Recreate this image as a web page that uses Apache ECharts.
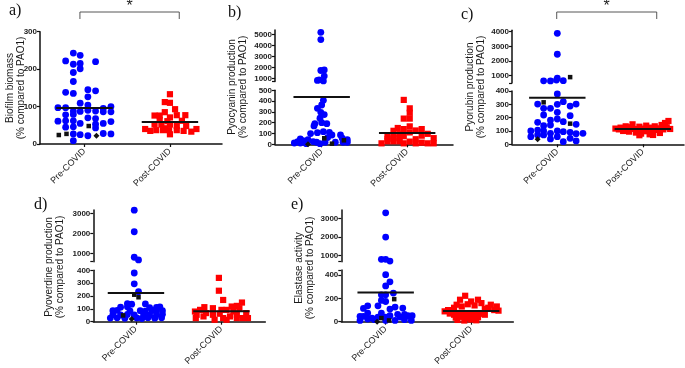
<!DOCTYPE html>
<html>
<head>
<meta charset="utf-8">
<script src="https://cdn.jsdelivr.net/npm/echarts@6/dist/echarts.min.js"></script>
<style>
  html, body { margin: 0; padding: 0; background: #fff; }
  #main { width: 685px; height: 368px; }
</style>
</head>
<body>
<div id="main"></div>
<script>
// x positions: Pre-COVID = 1, Post-COVID = 2 (points are jittered around them)
const groupNames = ['Pre-COVID', 'Post-COVID'];

// a) biofilm biomass
const biofilmPre = [[0.87,243],[0.95,237],[0.78,222],[0.87,213],[0.95,215],[1.13,220],[0.95,201],[0.87,191],[0.87,167],
  [0.78,138],[0.87,135],[1.04,145],[1.13,142],[1.04,126],[0.95,109],[1.04,104],
  [0.69,97],[0.78,97],[1.22,95],[1.31,100],
  [0.87,88],[0.95,87],[1.04,90],[1.13,88],[1.22,86],[1.31,86],
  [0.78,78],[0.87,79],[1.13,68],[1.04,70],
  [0.69,61],[0.78,62],[0.87,62],[1.31,60],[0.95,55],[1.13,53],[1.22,55],
  [0.78,45],[0.87,46],[1.13,43],
  [0.87,27],[0.95,25],[1.04,22],[1.22,28],[1.31,27],[0.87,9]];
const biofilmRef = [[0.70,24,'s'],[0.79,27,'s'],[1.05,48,'s'],[1.14,22,'d']];
const biofilmPost = [[2.0,133],[1.94,112],[2.0,110],[2.06,93],[1.94,85],[1.82,76],[1.88,76],[2.08,77],[2.18,77],[2.0,71],
  [1.88,64],[2.14,62],[1.97,61],[1.82,52],[1.90,52],[2.0,52],[2.19,48],[2.08,48],[1.94,42],
  [1.71,40],[1.77,35],[1.84,37],[1.92,37],[1.99,37],[2.08,37],[2.16,35],[2.25,33],[2.31,40],[2.0,26]];
const biofilmMedian = [96, 59];

// b) pyocyanin production
const pyocyaninPre = [[0.99,5180],[0.99,4520],[0.99,1710],[1.03,1760],[1.03,1200],[0.95,810],[1.02,760],[0.97,860],
  [1.02,407],[1.0,364],[0.95,333],[0.99,296],[1.03,275],[0.98,241],[0.92,191],[0.91,170],[1.06,191],[1.0,200],
  [0.87,99],[0.95,108],[1.02,117],[1.09,111],[1.12,86],[1.22,86],
  [0.75,49],[0.72,25],[0.78,34],[0.84,43],[0.90,25],[0.94,19],[1.07,62],[1.24,56],[1.30,43],[1.30,19],
  [0.68,12],[0.75,12],[0.82,6],[0.98,6],[1.04,19],[1.16,19],[1.25,19]];
const pyocyaninRef = [[1.03,56,'s'],[1.12,6,'s'],[0.84,0,'d'],[1.26,37,'s']];
const pyocyaninPost = [[1.96,411],[2.03,333],[2.03,292],[1.96,238],[2.03,238],[1.89,151],[1.96,141],[2.03,166],
  [1.84,125],[2.10,128],[2.17,141],[2.24,97],[2.03,110],
  [1.70,9],[1.77,75],[1.77,28],[1.77,50],[1.84,82],[1.84,28],[1.84,55],[1.91,94],[1.91,28],[1.91,60],
  [1.96,9],[1.96,75],[2.03,25],[2.10,47],[2.10,9],[2.17,15],[2.24,9],[2.31,57],[2.31,9],[2.17,80]];
const pyocyaninMedian = [437, 105];

// c) pyorubin production
const pyorubinPre = [[1.0,3890],[1.0,2460],[0.84,650],[0.92,640],[1.0,830],[0.99,700],[1.07,660],
  [1.0,378],[0.77,302],[0.84,270],[0.92,270],[1.0,300],[1.07,320],[1.15,287],[1.22,302],
  [1.0,240],[0.84,220],[1.15,215],[0.92,182],[1.0,190],[1.07,170],[0.77,165],
  [0.84,140],[0.92,145],[1.22,150],
  [0.69,100],[0.77,107],[0.84,100],[1.0,100],[1.07,95],[1.15,90],
  [0.69,57],[0.77,70],[0.84,70],[0.92,82],[1.0,57],[1.22,80],[1.30,82],
  [0.92,40],[1.15,45],[1.07,20],[1.22,25]];
const pyorubinRef = [[1.15,900,'s'],[0.84,315,'s'],[1.15,155,'s'],[0.77,37,'d']];
const pyorubinPost = [[1.68,118],[1.72,112],[1.74,125],[1.77,100],[1.80,135],[1.82,110],[1.84,95],[1.86,128],
  [1.88,150],[1.90,115],[1.92,88],[1.94,105],[1.96,132],[1.98,80],[2.00,118],[2.02,98],[2.04,140],
  [2.06,110],[2.08,75],[2.10,125],[2.12,92],[2.14,135],[2.16,108],[2.18,120],[2.20,85],[2.22,145],
  [2.24,112],[2.26,160],[2.28,128],[2.30,175],[2.32,115],[1.96,68],[2.12,70]];
const pyorubinMedian = [350, 115];

// d) pyoverdine production
const pyoverdinePre = [[0.98,3163],[0.98,2089],[0.98,822],[1.03,688],
  [0.98,379],[0.98,295],[1.03,233],[0.90,141],[0.95,136],[1.11,138],
  [0.82,113],[0.90,116],[1.16,110],[1.24,112],[1.28,115],
  [0.73,85],[0.78,88],[0.93,84],[1.05,86],[1.11,82],[1.19,87],[1.24,84],[1.31,86],
  [0.73,54],[0.82,52],[0.90,56],[0.98,53],[1.09,55],[1.16,50],[1.24,54],[1.31,57],
  [0.70,28],[0.78,30],[0.87,26],[1.01,29],[1.07,25],[1.14,31],[1.22,27],[1.30,30]];
const pyoverdineRef = [[0.98,210,'s'],[1.03,190,'s'],[0.85,49,'s'],[0.95,21,'d']];
const pyoverdinePost = [[1.97,341],[1.97,241],[2.02,169],[2.24,149],[2.18,123],[2.12,118],[1.80,113],[1.90,105],
  [1.69,79],[1.75,92],[1.82,67],[1.90,54],[1.98,62],[2.06,92],[2.14,79],[2.21,105],[2.29,67],[2.0,92],
  [1.70,28],[1.79,41],[1.92,15],[2.02,28],[2.10,41],[2.18,28],[2.25,28],[2.31,28],
  [1.71,54],[2.18,54],[2.06,15]];
const pyoverdineMedian = [223, 82];

// e) elastase activity
const elastasePre = [[1.0,3300],[1.0,2000],[0.95,807],[1.0,807],[1.05,716],
  [1.0,405],[1.05,343],[1.0,308],[0.95,231],[1.0,231],[1.09,246],
  [0.95,183],[1.0,174],[0.91,137],[0.79,137],[0.74,114],[1.20,117],[1.05,109],[1.11,126],
  [0.79,74],[0.95,74],[1.14,63],[1.22,63],
  [0.70,46],[0.74,46],[0.84,31],[0.91,40],[1.0,40],[1.05,51],[1.17,40],[1.26,51],[1.31,51],
  [0.70,11],[0.79,23],[0.87,17],[1.0,11],[1.11,11],[1.22,17],[1.30,11]];
const elastaseRef = [[1.10,194,'s'],[0.95,31,'s'],[1.04,11,'s'],[0.90,0,'d']];
const elastasePost = [[1.69,89],[1.73,100],[1.77,94],[1.80,120],[1.83,146],[1.87,189],[1.89,131],[1.93,223],
  [1.96,150],[2.0,174],[2.04,140],[2.08,189],[2.12,160],[2.16,110],[2.20,120],[2.23,146],[2.27,100],
  [2.30,131],[2.32,95],
  [1.75,70],[1.80,60],[1.86,65],[1.92,58],[1.98,70],[2.04,62],[2.10,68],[2.16,60],
  [1.82,35],[1.90,42],[1.96,30],[2.02,45],[2.08,38],
  [1.84,15],[1.92,10],[2.0,18],[2.06,12]];
const elastaseMedian = [251, 91];

const BLUE = '#0000ff';
const RED = '#ff0000';
const INK = '#111';
const FONT = 'Liberation Sans, Arial, sans-serif';

// layout of the five panels (pixels)
const panels = [
  { label: 'a)', lx: 9, ly: 3, title: ['Biofilm biomass', '(% compared to PAO1)'], tx: 16, ty: 88,
    left: 40, width: 182, xMin: 0.48, xMax: 2.609,
    lower: { top: 31.7, height: 112.3, min: 0, max: 300, ticks: [0, 100, 200, 300], labels: [0, 100, 200, 300] },
    pre: biofilmPre, ref: biofilmRef, post: biofilmPost, med: biofilmMedian, sig: [0.947, 2.109] },
  { label: 'b)', lx: 228, ly: 5, title: ['Pyocyanin production', '(% compared to PAO1)'], tx: 238, ty: 87,
    left: 275, width: 178, xMin: 0.454, xMax: 2.536,
    upper: { top: 29.9, height: 51.7, min: 700, max: 5400, ticks: [700, 1000, 2000, 3000, 4000, 5000], labels: [1000, 2000, 3000, 4000, 5000] },
    lower: { top: 90.3, height: 54, min: 0, max: 500, ticks: [0, 100, 200, 300, 400, 500], labels: [0, 100, 200, 300, 400, 500] },
    pre: pyocyaninPre, ref: pyocyaninRef, post: pyocyaninPost, med: pyocyaninMedian },
  { label: 'c)', lx: 461, ly: 7, title: ['Pyorubin production', '(% compared to PAO1)'], tx: 476, ty: 87,
    left: 512, width: 172, xMin: 0.47, xMax: 2.482,
    upper: { top: 30.2, height: 52.8, min: 500, max: 4100, ticks: [500, 1000, 2000, 3000, 4000], labels: [1000, 2000, 3000, 4000] },
    lower: { top: 91, height: 53.3, min: 0, max: 400, ticks: [0, 100, 200, 300, 400], labels: [0, 100, 200, 300, 400] },
    pre: pyorubinPre, ref: pyorubinRef, post: pyorubinPost, med: pyorubinMedian, sig: [0.993, 2.163] },
  { label: 'd)', lx: 34, ly: 197, title: ['Pyoverdine production', '(% compared to PAO1)'], tx: 55, ty: 267,
    left: 93.3, width: 172, xMin: 0.501, xMax: 2.513,
    upper: { top: 210, height: 51.7, min: 600, max: 3170, ticks: [600, 1000, 2000, 3000], labels: [1000, 2000, 3000] },
    lower: { top: 270.3, height: 51.7, min: 0, max: 400, ticks: [0, 100, 200, 300, 400], labels: [0, 100, 200, 300, 400] },
    pre: pyoverdinePre, ref: pyoverdineRef, post: pyoverdinePost, med: pyoverdineMedian },
  { label: 'e)', lx: 291, ly: 197, title: ['Elastase activity', '(% compared to PAO1)'], tx: 305, ty: 268,
    left: 341.3, width: 172, xMin: 0.481, xMax: 2.493,
    upper: { top: 210, height: 51.7, min: 680, max: 3450, ticks: [680, 1000, 2000, 3000], labels: [1000, 2000, 3000] },
    lower: { top: 270, height: 52, min: 0, max: 445, ticks: [0, 200, 400, 445], labels: [0, 200, 400] },
    pre: elastasePre, ref: elastaseRef, post: elastasePost, med: elastaseMedian }
];

const MED_HALF = 0.33;

const option = { animation: false, grid: [], xAxis: [], yAxis: [], series: [], graphic: [] };
const lowerAxisOf = [];

panels.forEach(p => {
  const parts = p.upper ? [['upper', p.upper], ['lower', p.lower]] : [['lower', p.lower]];
  parts.forEach(([kind, seg]) => {
    const gi = option.grid.length;
    const isLower = kind === 'lower';
    if (isLower) lowerAxisOf.push(gi);
    option.grid.push({ left: p.left, top: seg.top, width: p.width, height: seg.height });
    option.xAxis.push({
      type: 'value', gridIndex: gi, min: p.xMin, max: p.xMax, show: isLower,
      splitLine: { show: false },
      axisLine: { onZero: false, lineStyle: { color: INK, width: 1.5 } },
      axisTick: { customValues: [1, 2], length: 3, lineStyle: { color: INK, width: 1.2 } },
      axisLabel: {
        customValues: [1, 2], rotate: 45, margin: 6, fontSize: 9, color: '#1a1a1a', fontFamily: FONT,
        formatter: v => groupNames[Math.round(v) - 1]
      }
    });
    option.yAxis.push({
      type: 'value', gridIndex: gi, min: seg.min, max: seg.max,
      splitLine: { show: false },
      axisLine: { show: true, lineStyle: { color: INK, width: 1.5 } },
      axisTick: { show: true, customValues: seg.ticks, length: 3, lineStyle: { color: INK, width: 1.2 } },
      axisLabel: { customValues: seg.labels, margin: 3, fontSize: 8, fontWeight: 'bold', color: '#222',
        fontFamily: FONT, formatter: v => String(v) }
    });
    const inSeg = pt => isLower ? pt[1] <= p.lower.max : pt[1] > p.lower.max;
    const common = { xAxisIndex: gi, yAxisIndex: gi, clip: false, silent: true };
    option.series.push({ ...common, type: 'scatter', symbol: 'circle', symbolSize: 6.8,
      itemStyle: { color: BLUE, opacity: 1 }, data: p.pre.filter(inSeg), z: 2 });
    option.series.push({ ...common, type: 'scatter', symbol: 'rect', symbolSize: 6.2,
      itemStyle: { color: RED, opacity: 1 }, data: p.post.filter(inSeg), z: 2 });
    option.series.push({ ...common, type: 'scatter',
      symbol: v => v[2] === 'd' ? 'diamond' : 'rect',
      symbolSize: v => v[2] === 'd' ? 6 : 4.5,
      itemStyle: { color: INK, opacity: 1 }, data: p.ref.filter(inSeg), z: 3 });
    if (isLower) {
      p.med.forEach((m, k) => {
        const g = k + 1;
        option.series.push({ ...common, type: 'line', symbol: 'none', z: 4,
          lineStyle: { color: INK, width: 2 },
          data: [[g - MED_HALF, m], [g + MED_HALF, m]] });
      });
    }
  });

  // panel letter
  option.graphic.push({ type: 'text', left: p.lx, top: p.ly,
    style: { text: p.label, font: '16px "Liberation Serif", "Times New Roman", serif', fill: INK } });
  // rotated two-line y title
  option.graphic.push({ type: 'text', x: p.tx, y: p.ty, rotation: Math.PI / 2,
    style: { text: p.title.join('\n'), align: 'center', verticalAlign: 'middle', lineHeight: 11,
      font: '10px ' + FONT, fill: '#1a1a1a' } });
});

const chart = echarts.init(document.getElementById('main'), null, { renderer: 'canvas' });
chart.setOption(option);

// significance brackets, placed from the Pre/Post axis positions
const extra = [];
panels.forEach((p, i) => {
  if (!p.sig) return;
  const ax = lowerAxisOf[i];
  const x0 = chart.convertToPixel({ xAxisIndex: ax }, p.sig[0]);
  const x1 = chart.convertToPixel({ xAxisIndex: ax }, p.sig[1]);
  const yTop = 12, yEnd = 19;
  extra.push({ type: 'polyline', shape: { points: [[x0, yEnd], [x0, yTop], [x1, yTop], [x1, yEnd]] },
    style: { stroke: '#444', lineWidth: 0.9, fill: null } });
  extra.push({ type: 'text', x: (x0 + x1) / 2, y: -1,
    style: { text: '*', align: 'center', verticalAlign: 'top', font: '16px ' + FONT, fill: '#222' } });
});
chart.setOption({ graphic: option.graphic.concat(extra) });
</script>
</body>
</html>
